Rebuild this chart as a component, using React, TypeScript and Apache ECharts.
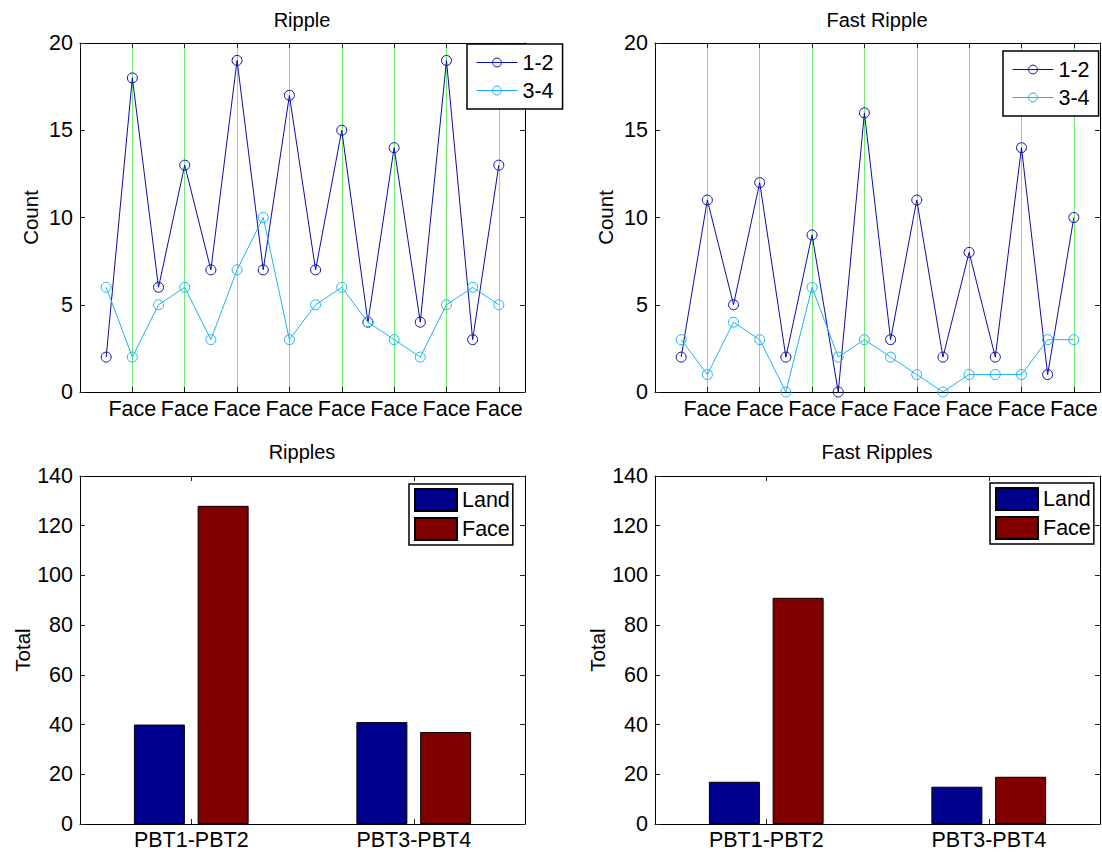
import React, { useEffect, useRef } from "react";
import * as echarts from "echarts";

// Trial positions along the x axis of the two line panels
const trials = [1, 2, 3, 4, 5, 6, 7, 8, 9, 10, 11, 12, 13, 14, 15, 16];
const trialTickLabel = "Face";

// Ripple counts per trial
const rippleCh12 = [2, 18, 6, 13, 7, 19, 7, 17, 7, 15, 4, 14, 4, 19, 3, 13];
const rippleCh34 = [6, 2, 5, 6, 3, 7, 10, 3, 5, 6, 4, 3, 2, 5, 6, 5];

// Fast ripple counts per trial
const fastCh12 = [2, 11, 5, 12, 2, 9, 0, 16, 3, 11, 2, 8, 2, 14, 1, 10];
const fastCh34 = [3, 1, 4, 3, 0, 6, 2, 3, 2, 1, 0, 1, 1, 1, 3, 3];

// Totals per electrode pair
const pairs = ["PBT1-PBT2", "PBT3-PBT4"];
const rippleLand = [40, 41];
const rippleFace = [128, 37];
const fastLand = [17, 15];
const fastFace = [91, 19];

const FONT = "'Liberation Sans', Arial, Helvetica, sans-serif";
const BLACK = "#000";
const GREEN = "#74ec74";
const C12 = "#0c0ca6";
const C34 = "#1ab4f2";
const LAND = "#00008f";
const FACE = "#800000";
const TICK_FONT = 21.5;

const grids = [
  { left: 80, top: 43, width: 445, height: 349 },
  { left: 655, top: 43, width: 445, height: 349 },
  { left: 80, top: 476, width: 445, height: 348 },
  { left: 655, top: 476, width: 445, height: 348 },
];

const tickStyle = { show: true, inside: true, length: 5, lineStyle: { color: "#222", width: 1 } };
const lineStyle = { show: true, onZero: false, lineStyle: { color: BLACK, width: 1 } };
const labelText = { color: BLACK, fontSize: TICK_FONT, fontFamily: FONT };

function trialXAxes(gridIndex: number) {
  return [
    {
      type: "value",
      gridIndex,
      position: "bottom",
      min: 0,
      max: 17,
      interval: 2,
      axisLine: lineStyle,
      axisTick: tickStyle,
      axisLabel: {
        ...labelText,
        margin: 6,
        showMinLabel: false,
        showMaxLabel: false,
        formatter: (v: number) => (v > 0 && v < 17 ? trialTickLabel : ""),
      },
      splitLine: { show: true, lineStyle: { color: GREEN, width: 1 } },
    },
    {
      type: "value",
      gridIndex,
      position: "top",
      min: 0,
      max: 17,
      interval: 2,
      axisLine: lineStyle,
      axisTick: tickStyle,
      axisLabel: { show: false },
      splitLine: { show: false },
    },
  ];
}

function pairXAxes(gridIndex: number) {
  return [
    {
      type: "category",
      gridIndex,
      position: "bottom",
      data: pairs,
      axisLine: lineStyle,
      axisTick: { ...tickStyle, alignWithLabel: true },
      axisLabel: { ...labelText, margin: 5 },
    },
    {
      type: "category",
      gridIndex,
      position: "top",
      data: pairs,
      axisLine: lineStyle,
      axisTick: { ...tickStyle, alignWithLabel: true },
      axisLabel: { show: false },
    },
  ];
}

function yAxes(gridIndex: number, max: number, interval: number, name: string, nameGap: number) {
  return [
    {
      type: "value",
      gridIndex,
      position: "left",
      min: 0,
      max,
      interval,
      name,
      nameLocation: "middle",
      nameGap,
      nameRotate: 90,
      nameTextStyle: { color: BLACK, fontSize: 20.5, fontFamily: FONT },
      axisLine: lineStyle,
      axisTick: tickStyle,
      axisLabel: { ...labelText, margin: 7 },
      splitLine: { show: false },
    },
    {
      type: "value",
      gridIndex,
      position: "right",
      min: 0,
      max,
      interval,
      axisLine: lineStyle,
      axisTick: tickStyle,
      axisLabel: { show: false },
      splitLine: { show: false },
    },
  ];
}

function trialSeries(name: string, values: number[], color: string, axisIndex: number) {
  return {
    type: "line",
    name,
    xAxisIndex: axisIndex,
    yAxisIndex: axisIndex,
    data: trials.map((t, i) => [t, values[i]]),
    symbol: "circle",
    symbolSize: 10,
    lineStyle: { color, width: 1 },
    itemStyle: { color: "rgba(255,255,255,0)", borderColor: color, borderWidth: 1 },
    z: 3,
  };
}

function pairSeries(name: string, values: number[], color: string, axisIndex: number) {
  return {
    type: "bar",
    name,
    xAxisIndex: axisIndex,
    yAxisIndex: axisIndex,
    data: values,
    barWidth: 51,
    barGap: "25%",
    itemStyle: { color, borderColor: BLACK, borderWidth: 1 },
  };
}

function lineLegend(left: number, top: number) {
  return {
    data: ["1-2", "3-4"],
    orient: "vertical",
    left,
    top,
    backgroundColor: "#fff",
    borderColor: BLACK,
    borderWidth: 1.5,
    padding: [6, 9, 6, 9],
    itemWidth: 41,
    itemHeight: 11,
    itemGap: 3,
    selectedMode: false,
    lineStyle: { width: 1 },
    itemStyle: { borderWidth: 1 },
    textStyle: { ...labelText, lineHeight: 25 },
  };
}

function barLegend(left: number, top: number) {
  return {
    data: ["Land", "Face"],
    orient: "vertical",
    left,
    top,
    icon: "rect",
    backgroundColor: "#fff",
    borderColor: BLACK,
    borderWidth: 1.5,
    padding: [4, 3, 4, 5],
    itemWidth: 42,
    itemHeight: 22,
    itemGap: 5,
    selectedMode: false,
    textStyle: { ...labelText, lineHeight: 24 },
  };
}

function panelTitle(text: string, x: number, y: number) {
  return {
    type: "text",
    x,
    y,
    style: {
      text,
      align: "center",
      verticalAlign: "middle",
      fill: BLACK,
      fontSize: 20,
      fontFamily: FONT,
    },
  };
}

export default function App() {
  const ref = useRef<HTMLDivElement>(null);

  useEffect(() => {
    if (!ref.current) return;
    const chart = echarts.init(ref.current, undefined, { renderer: "svg" });
    chart.setOption({
      animation: false,
      backgroundColor: "#fff",
      grid: grids.map((g) => ({ ...g, containLabel: false })),
      xAxis: [...trialXAxes(0), ...trialXAxes(1), ...pairXAxes(2), ...pairXAxes(3)],
      yAxis: [
        ...yAxes(0, 20, 5, "Count", 39),
        ...yAxes(1, 20, 5, "Count", 39),
        ...yAxes(2, 140, 20, "Total", 47),
        ...yAxes(3, 140, 20, "Total", 47),
      ],
      legend: [lineLegend(467, 44), lineLegend(1003, 51), barLegend(409, 484), barLegend(990, 483)],
      series: [
        trialSeries("1-2", rippleCh12, C12, 0),
        trialSeries("3-4", rippleCh34, C34, 0),
        trialSeries("1-2", fastCh12, C12, 2),
        trialSeries("3-4", fastCh34, C34, 2),
        pairSeries("Land", rippleLand, LAND, 4),
        pairSeries("Face", rippleFace, FACE, 4),
        pairSeries("Land", fastLand, LAND, 6),
        pairSeries("Face", fastFace, FACE, 6),
      ],
      graphic: [
        panelTitle("Ripple", 302, 20),
        panelTitle("Fast Ripple", 877, 20),
        panelTitle("Ripples", 302, 452),
        panelTitle("Fast Ripples", 877, 452),
      ],
    });
    return () => chart.dispose();
  }, []);

  return (
    <div
      ref={ref}
      style={{ position: "absolute", left: 0, top: 0, width: 1102, height: 860, background: "#fff" }}
    />
  );
}
